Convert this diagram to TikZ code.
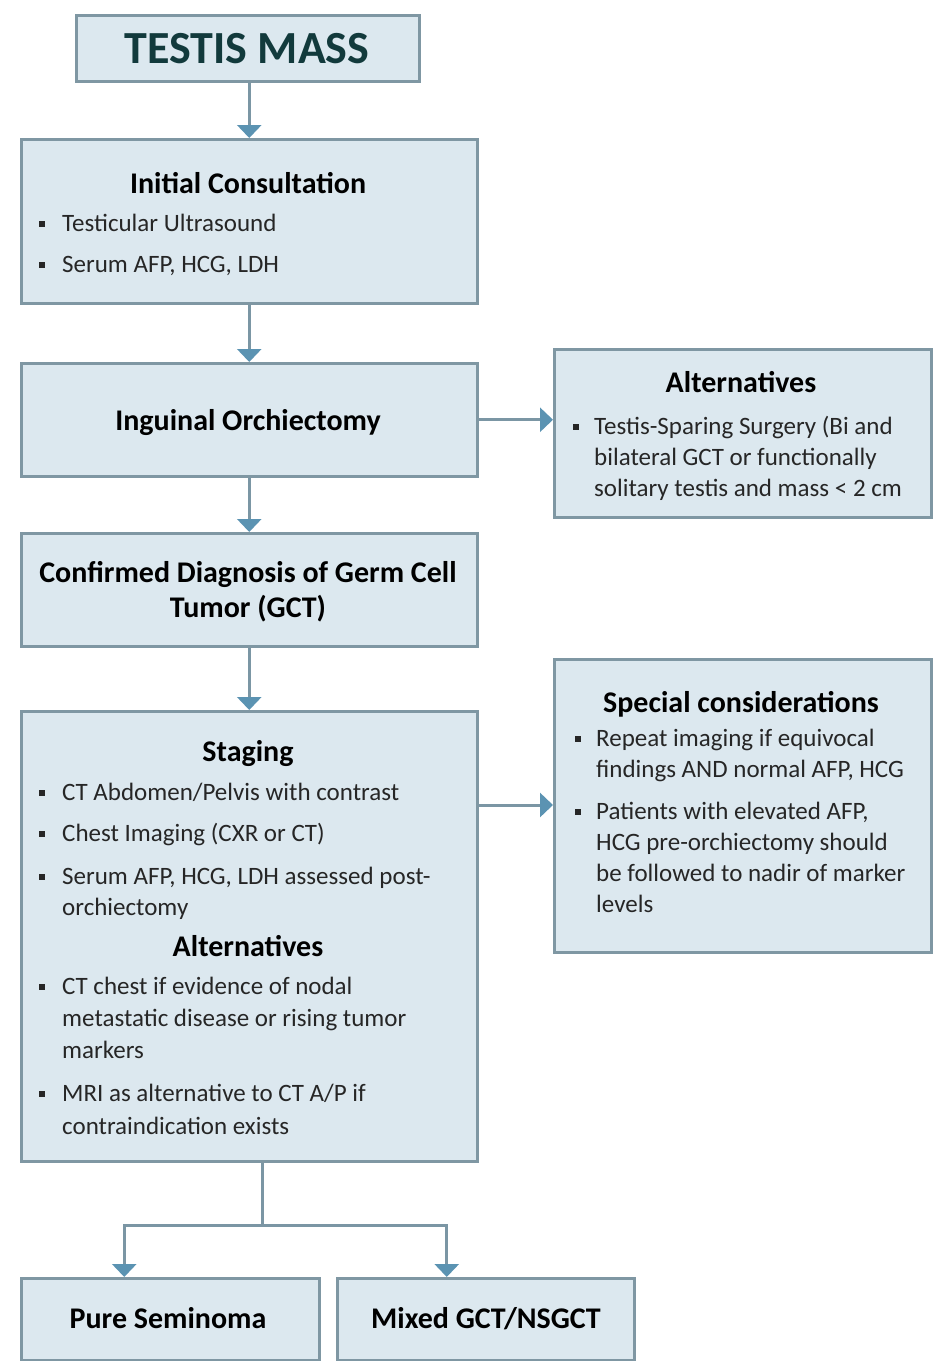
\documentclass[tikz,border=0pt]{standalone}
\usepackage{fontspec}
\setmainfont{Carlito}
\usetikzlibrary{arrows.meta}

\definecolor{boxfill}{HTML}{DCE8EF}
\definecolor{boxline}{HTML}{7F97A3}
\definecolor{linkline}{HTML}{7B96A4}
\definecolor{headblue}{HTML}{5B93B2}
\definecolor{titleteal}{HTML}{123A3C}
\definecolor{bodytext}{HTML}{262626}

\begin{document}
\begin{tikzpicture}[x=1pt,y=-1pt,
  box/.style={draw=boxline, line width=2.5pt, fill=boxfill, inner sep=0pt, anchor=north west},
  ttl/.style={font=\fontsize{30}{36}\selectfont\bfseries, text=black, inner sep=0pt, anchor=base},
  body/.style={font=\fontsize{25}{30}\selectfont, text=bodytext, inner sep=0pt, anchor=base west},
  bul/.style={fill=bodytext, minimum size=6.5pt, inner sep=0pt},
  line/.style={draw=linkline, line width=3pt},
  link/.style={line, -{Triangle[width=24pt,length=13pt,color=headblue]}},
]
\useasboundingbox (0,0) rectangle (936,1361);

% ---- boxes ----
\node[box, minimum width=343pt, minimum height=66pt]  (tm)  at (75,14)    {};
\node[box, minimum width=456pt, minimum height=164pt] (ic)  at (20,138)   {};
\node[box, minimum width=456pt, minimum height=113pt] (io)  at (20,362)   {};
\node[box, minimum width=377pt, minimum height=168pt] (alt) at (553,348)  {};
\node[box, minimum width=456pt, minimum height=113pt] (cd)  at (20,532)   {};
\node[box, minimum width=456pt, minimum height=450pt] (st)  at (20,710)   {};
\node[box, minimum width=377pt, minimum height=293pt] (sp)  at (553,658)  {};
\node[box, minimum width=298pt, minimum height=82pt]  (ps)  at (20,1277)  {};
\node[box, minimum width=297pt, minimum height=82pt]  (mx)  at (336,1277) {};

% ---- top box ----
\node[inner sep=0pt, anchor=base, text=titleteal,
      font=\fontsize{46}{50}\selectfont\bfseries] (tmt) at (247,63) {TESTIS MASS};

% ---- initial consultation ----
\node[ttl]  (ict) at (248,193) {Initial Consultation};
\node[bul]  (icb1) at (42,224) {};
\node[body] (ic1) at (62,231) {Testicular Ultrasound};
\node[bul]  (icb2) at (42,265) {};
\node[body] (ic2) at (62,272) {Serum AFP, HCG, LDH};

% ---- orchiectomy ----
\node[ttl] (iot) at (248,430) {Inguinal Orchiectomy};

% ---- alternatives (surgery) ----
\node[ttl]  (altt) at (741,392) {Alternatives};
\node[bul]  (altb1) at (576,427) {};
\node[body] (alt1) at (594,434) {Testis-Sparing Surgery (Bi and};
\node[body] (alt2) at (594,465) {bilateral GCT or functionally};
\node[body] (alt3) at (594,496) {solitary testis and mass < 2 cm};

% ---- confirmed diagnosis ----
\node[ttl] (cd1) at (248,582) {Confirmed Diagnosis of Germ Cell};
\node[ttl] (cd2) at (248,617) {Tumor (GCT)};

% ---- staging ----
\node[ttl]  (stt) at (248,761) {Staging};
\node[bul]  (stb1) at (42,793) {};
\node[body] (st1) at (62,800) {CT Abdomen/Pelvis with contrast};
\node[bul]  (stb2) at (42,834) {};
\node[body] (st2) at (62,841) {Chest Imaging (CXR or CT)};
\node[bul]  (stb3) at (42,877) {};
\node[body] (st3) at (62,884) {Serum AFP, HCG, LDH assessed post-};
\node[body] (st4) at (62,915) {orchiectomy};
\node[ttl]  (sta) at (248,956) {Alternatives};
\node[bul]  (stb5) at (42,987) {};
\node[body] (st5) at (62,994) {CT chest if evidence of nodal};
\node[body] (st6) at (62,1026) {metastatic disease or rising tumor};
\node[body] (st7) at (62,1058) {markers};
\node[bul]  (stb8) at (42,1094) {};
\node[body] (st8) at (62,1101) {MRI as alternative to CT A/P if};
\node[body] (st9) at (62,1134) {contraindication exists};

% ---- special considerations ----
\node[ttl]  (spt) at (741,712) {Special considerations};
\node[bul]  (spb1) at (578,739) {};
\node[body] (sp1) at (596,746) {Repeat imaging if equivocal};
\node[body] (sp2) at (596,777) {findings AND normal AFP, HCG};
\node[bul]  (spb3) at (578,812) {};
\node[body] (sp3) at (596,819) {Patients with elevated AFP,};
\node[body] (sp4) at (596,850) {HCG pre-orchiectomy should};
\node[body] (sp5) at (596,881) {be followed to nadir of marker};
\node[body] (sp6) at (596,912) {levels};

% ---- outcomes ----
\node[ttl] (pst) at (168,1328) {Pure Seminoma};
\node[ttl] (mxt) at (486,1328) {Mixed GCT/NSGCT};

% ---- connectors ----
\draw[link] (ic.north |- tm.south) -- (ic.north);
\draw[link] (ic.south) -- (io.north);
\draw[link] (io.east) -- (alt.west |- io.east);
\draw[link] (io.south) -- (cd.north);
\draw[link] (cd.south) -- (st.north);
\draw[link] ([yshift=-95pt]st.north east) -- ([yshift=-95pt]st.north east -| sp.west);
\coordinate (split) at (262,1225);
\draw[line] (split |- st.south) -- (split);
\draw[link] (split) -| ([xshift=-46pt]ps.north);
\draw[link] (split) -| ([xshift=-39pt]mx.north);
\end{tikzpicture}
\end{document}
